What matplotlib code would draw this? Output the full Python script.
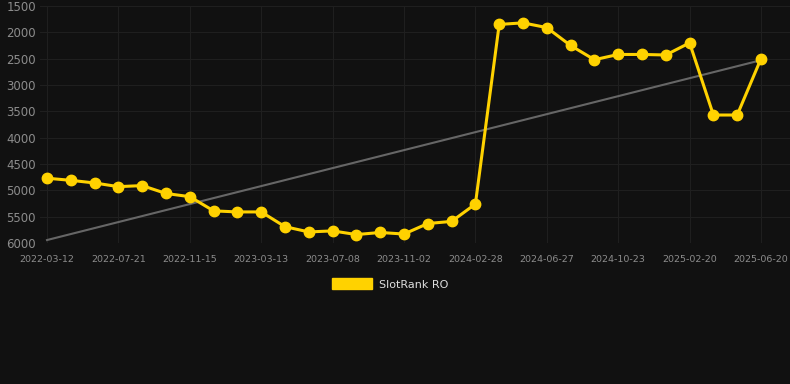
import matplotlib.pyplot as plt
import matplotlib.patches as mpatches
import numpy as np

# chart data
dates = ['2022-03-12', '2022-04-25', '2022-06-08', '2022-07-21', '2022-08-29',
         '2022-10-07', '2022-11-15', '2022-12-24', '2023-02-01', '2023-03-13',
         '2023-04-20', '2023-05-30', '2023-07-08', '2023-08-16', '2023-09-24',
         '2023-11-02', '2023-12-11', '2024-01-19', '2024-02-28', '2024-04-08',
         '2024-05-18', '2024-06-27', '2024-08-05', '2024-09-13', '2024-10-23',
         '2024-12-01', '2025-01-11', '2025-02-20', '2025-03-31', '2025-05-11',
         '2025-06-20']
rank = [4770, 4810, 4860, 4930, 4910, 5060, 5120, 5390, 5410, 5410,
        5690, 5790, 5770, 5840, 5800, 5830, 5630, 5590, 5260, 1850,
        1820, 1910, 2250, 2520, 2420, 2420, 2430, 2200, 3570, 3570,
        2500]
y_ticks = [1500, 2000, 2500, 3000, 3500, 4000, 4500, 5000, 5500, 6000]

bg = '#111111'
yellow = '#FFD200'

x = np.arange(len(dates))

fig = plt.figure(figsize=(7.9, 3.84), dpi=100, facecolor=bg)
ax = fig.add_axes([40 / 790, 1 - 243 / 384, 750 / 790, 237 / 384])
ax.set_facecolor(bg)

# trend line (least squares fit)
k, b = np.polyfit(x, rank, 1)
ax.plot(x, k * x + b, color='#666666', lw=1.5, zorder=2)

ax.plot(x, rank, color=yellow, lw=2.2, marker='o', markersize=7.5, zorder=3)

ax.set_ylim(6000, 1500)
ax.set_xlim(-7 / 23.8, 30 + 29 / 23.8)
ax.set_yticks(y_ticks)
ax.set_xticks(x[::3])
ax.set_xticklabels(dates[::3])

ax.grid(True, color='#1f1f1f', lw=0.8)
for s in ax.spines.values():
    s.set_visible(False)
ax.tick_params(axis='y', colors='#8c8c8c', labelsize=8.5, length=0, pad=3)
ax.tick_params(axis='x', colors='#8c8c8c', labelsize=6.8, length=0, pad=9)

# legend below the plot
handle = mpatches.Patch(color=yellow, label='SlotRank RO')
leg = fig.legend(handles=[handle], loc='center', bbox_to_anchor=(390 / 790, 1 - 284 / 384),
                 frameon=False, fontsize=8, labelcolor='#dddddd',
                 handlelength=3.6, handleheight=1.1, handletextpad=0.6)

fig.savefig('out.png', dpi=100, facecolor=bg)
